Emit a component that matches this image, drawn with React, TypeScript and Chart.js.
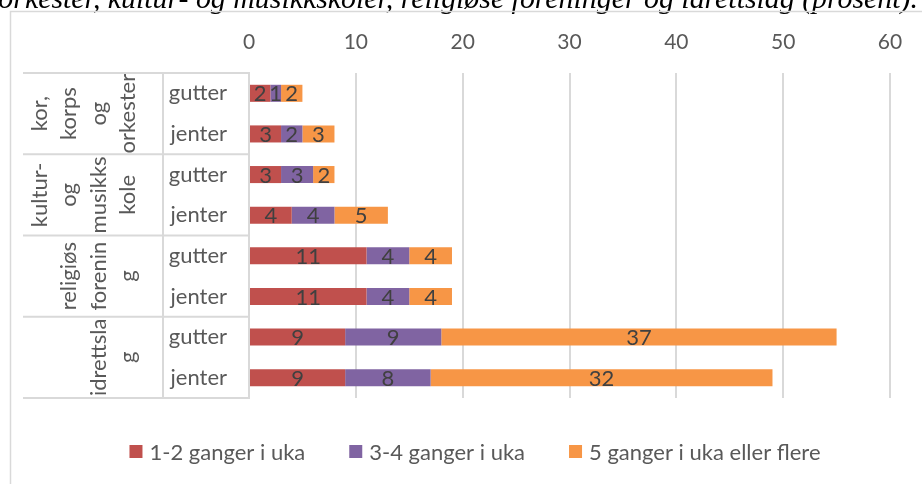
import React, { useEffect, useRef } from "react";
import { Chart, registerables } from "chart.js";
Chart.register(...registerables);

// ---- data ----
const titleText = "orkester, kultur- og musikkskoler, religiøse foreninger og idrettslag (prosent).";
const groupLines: string[][] = [
  ["kor,", "korps", "og", "orkester"],
  ["kultur-", "og", "musikks", "kole"],
  ["religiøs", "forenin", "g"],
  ["idrettsla", "g"],
];
const subLabels = ["gutter", "jenter", "gutter", "jenter", "gutter", "jenter", "gutter", "jenter"];
const seriesNames = ["1-2 ganger i uka", "3-4 ganger i uka", "5 ganger i uka eller flere"];
const s12 = [2, 3, 3, 4, 11, 11, 9, 9];
const s34 = [1, 2, 3, 4, 4, 4, 9, 8];
const s5 = [2, 3, 2, 5, 4, 4, 37, 32];
const xTickMin = 0;
const xTickMax = 60;
const xTickStep = 10;

const COLORS = ["#C0504D", "#8064A2", "#F79646"];
const FONT = 'Lato, "Noto Sans", sans-serif';
const SERIF = '"Liberation Serif", "Times New Roman", serif';
const GRID = "#d9d9d9";
const TEXT = "#595959";
const LABEL_SIZE = 22;
const NUM_SIZE = 21;

const decorPlugin = {
  id: "decor",
  beforeDraw(chart: any) {
    const ctx = chart.ctx as CanvasRenderingContext2D;
    ctx.save();
    ctx.fillStyle = "#ffffff";
    ctx.fillRect(0, 0, chart.width, chart.height);
    // title (cut off at top)
    ctx.fillStyle = "#000000";
    ctx.font = `italic 24px ${SERIF}`;
    const w24 = ctx.measureText(titleText).width;
    const size = (24 * 920) / w24;
    ctx.font = `italic ${size.toFixed(2)}px ${SERIF}`;
    ctx.textAlign = "right";
    ctx.textBaseline = "alphabetic";
    ctx.fillText(titleText, 918, 8);
    // outer border
    ctx.strokeStyle = GRID;
    ctx.lineWidth = 1.5;
    ctx.strokeRect(10.5, 11.5, 2000, 2000);
    ctx.restore();
  },
  afterDraw(chart: any) {
    const ctx = chart.ctx as CanvasRenderingContext2D;
    const y = chart.scales.y;
    const area = chart.chartArea;
    const tableLeft = 23;
    const dividerX = 163;
    ctx.save();
    // table lines
    ctx.strokeStyle = GRID;
    ctx.lineWidth = 2;
    const bounds: number[] = [];
    for (let g = 0; g <= groupLines.length; g++) {
      let py: number;
      if (g === 0) py = area.top;
      else if (g === groupLines.length) py = area.bottom;
      else py = (y.getPixelForValue(2 * g - 1) + y.getPixelForValue(2 * g)) / 2;
      bounds.push(py);
      ctx.beginPath();
      ctx.moveTo(tableLeft, py);
      ctx.lineTo(area.left, py);
      ctx.stroke();
    }
    ctx.beginPath();
    ctx.moveTo(dividerX, area.top);
    ctx.lineTo(dividerX, area.bottom);
    ctx.stroke();

    // group labels (rotated, wrapped)
    ctx.fillStyle = TEXT;
    ctx.font = `${LABEL_SIZE}px ${FONT}`;
    ctx.textAlign = "center";
    ctx.textBaseline = "alphabetic";
    const lineGap = 29.3;
    const lastBaseline = dividerX - 28;
    groupLines.forEach((lines, g) => {
      const cy = (bounds[g] + bounds[g + 1]) / 2;
      const n = lines.length;
      lines.forEach((line, j) => {
        const k = 4 - n + j;
        const bx = lastBaseline - (3 - k) * lineGap;
        ctx.save();
        ctx.translate(bx, cy);
        ctx.rotate(-Math.PI / 2);
        ctx.fillText(line, 0, 0);
        ctx.restore();
      });
    });

    // data labels
    ctx.fillStyle = "#404040";
    ctx.font = `22px ${FONT}`;
    ctx.textAlign = "center";
    ctx.textBaseline = "middle";
    chart.data.datasets.forEach((ds: any, di: number) => {
      const meta = chart.getDatasetMeta(di);
      meta.data.forEach((bar: any, i: number) => {
        const cx = (bar.x + bar.base) / 2;
        ctx.fillText(String(ds.data[i]), cx, bar.y + 1);
      });
    });

    // legend
    ctx.font = `${LABEL_SIZE}px ${FONT}`;
    ctx.textBaseline = "middle";
    ctx.textAlign = "left";
    const box = 13;
    const boxGap = 7;
    const itemGap = 44;
    const widths = seriesNames.map((s) => box + boxGap + ctx.measureText(s).width);
    const total = widths.reduce((a, b) => a + b, 0) + itemGap * (widths.length - 1);
    let lx = 475 - total / 2;
    const ly = 451.5;
    seriesNames.forEach((s, i) => {
      ctx.fillStyle = COLORS[i];
      ctx.fillRect(lx, ly - box / 2, box, box);
      ctx.fillStyle = TEXT;
      ctx.fillText(s, lx + box + boxGap, ly + 1);
      lx += widths[i] + itemGap;
    });
    ctx.restore();
  },
};

export default function App() {
  const ref = useRef<HTMLCanvasElement | null>(null);
  useEffect(() => {
    document.body.style.margin = "0";
    const canvas = ref.current!;
    const chart = new Chart(canvas, {
      type: "bar",
      data: {
        labels: subLabels.map((s, i) => `${i}-${s}`),
        datasets: [s12, s34, s5].map((d, i) => ({
          label: seriesNames[i],
          data: d,
          backgroundColor: COLORS[i],
          borderWidth: 0,
          barPercentage: 0.42,
          categoryPercentage: 1,
        })),
      },
      options: {
        indexAxis: "y",
        responsive: false,
        animation: false,
        layout: { padding: { left: 0, right: 32, top: 0, bottom: 86 } },
        plugins: { legend: { display: false }, tooltip: { enabled: false }, title: { display: false } },
        scales: {
          x: {
            position: "top",
            stacked: true,
            min: xTickMin,
            max: xTickMax,
            ticks: { stepSize: xTickStep, color: TEXT, font: { family: FONT, size: NUM_SIZE }, padding: 18 },
            grid: { color: GRID, lineWidth: 2, drawTicks: false },
            border: { display: false },
            afterFit: (s: any) => { s.height = 73; },
          },
          y: {
            stacked: true,
            ticks: {
              color: TEXT,
              font: { family: FONT, size: LABEL_SIZE },
              padding: 22,
              callback: (_v: any, i: number) => subLabels[i],
            },
            grid: { display: false, drawTicks: false },
            border: { display: true, color: GRID, width: 2 },
            afterFit: (s: any) => { s.width = 249; },
          },
        },
      } as any,
      plugins: [decorPlugin],
    });
    return () => chart.destroy();
  }, []);
  return (
    <div style={{ width: 922, height: 484, position: "relative" }}>
      <canvas ref={ref} width={922} height={484} style={{ display: "block" }} />
    </div>
  );
}
